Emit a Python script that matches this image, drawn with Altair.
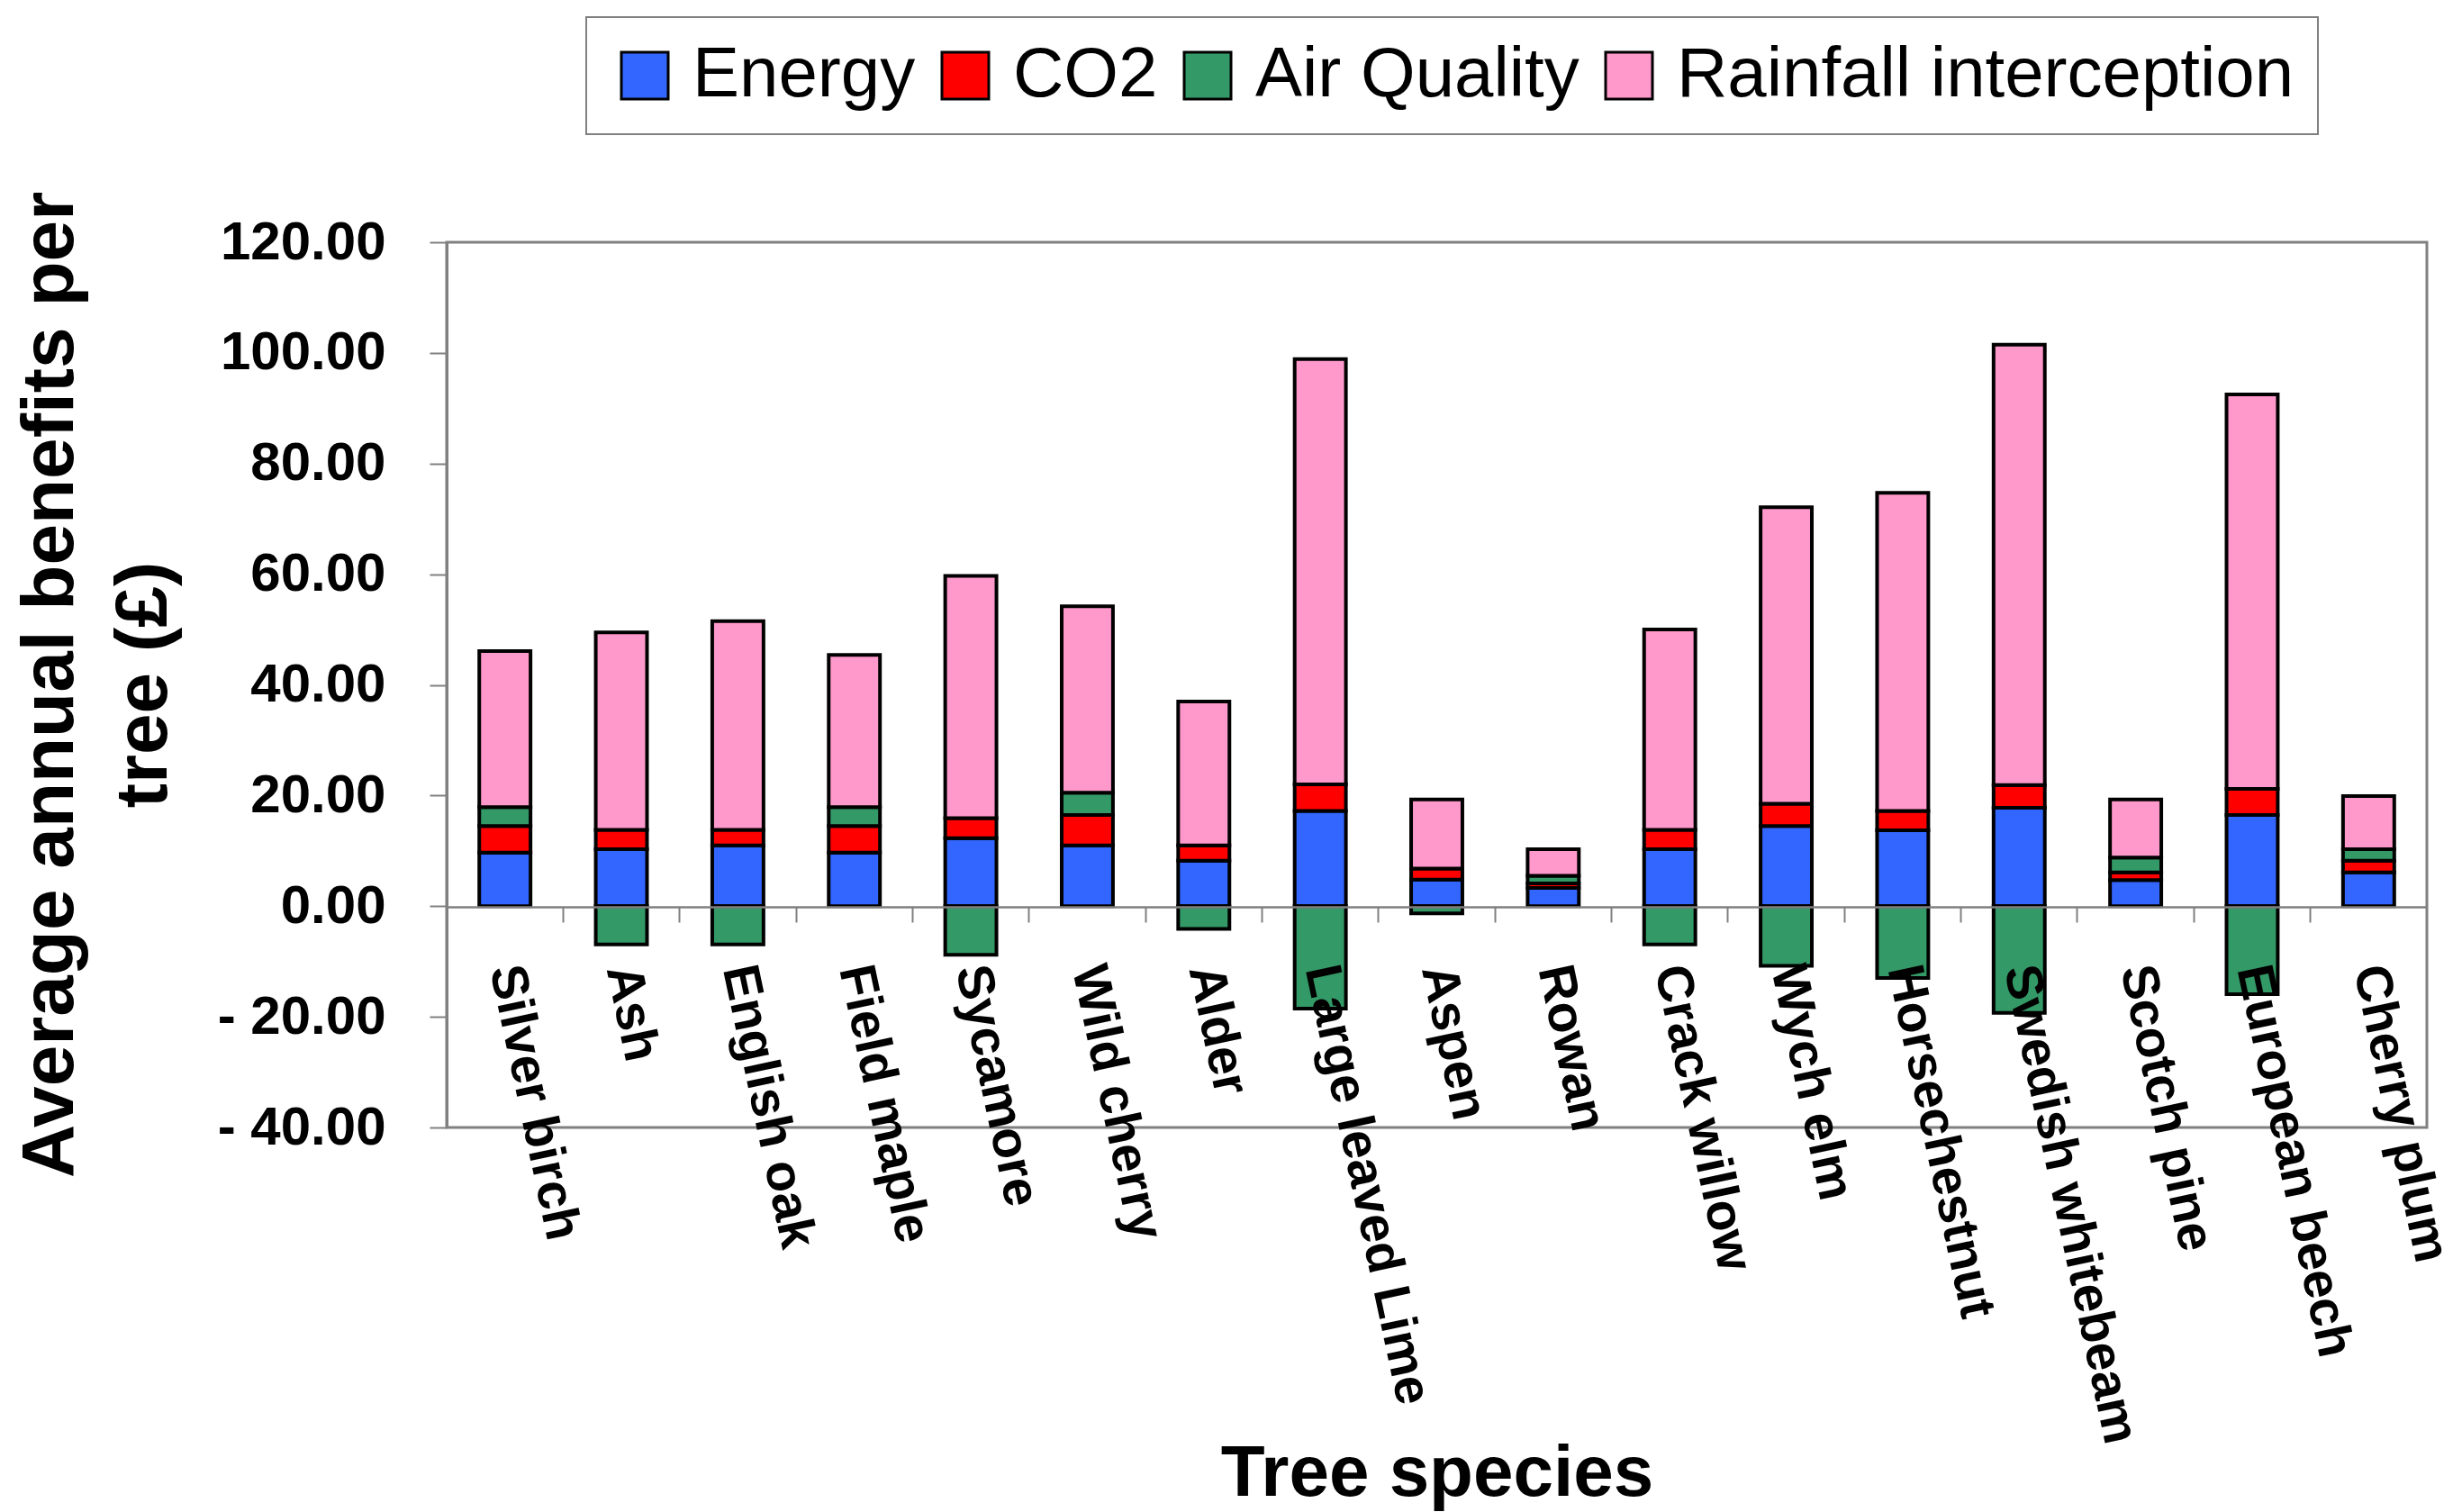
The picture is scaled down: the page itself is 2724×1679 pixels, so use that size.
import altair as alt
import pandas as pd

species = ["Silver birch", "Ash", "English oak", "Field maple", "Sycamore",
           "Wild cherry", "Alder", "Large leaved Lime", "Aspen", "Rowan",
           "Crack willow", "Wych elm", "Horsechestnut", "Swedish whitebeam",
           "Scotch pine", "European beech", "Cherry plum"]
energy = [9.7, 10.3, 11.0, 9.7, 12.3, 11.0, 8.2, 17.2, 4.8, 3.3, 10.3, 14.5, 13.7, 17.8, 4.7, 16.5, 6.1]
co2 = [4.8, 3.5, 2.8, 4.8, 3.6, 5.5, 2.8, 4.8, 2.0, 0.8, 3.5, 4.0, 3.5, 4.1, 1.4, 4.7, 2.1]
air_quality = [3.4, -6.9, -6.9, 3.4, -8.8, 4.0, -4.1, -18.5, -1.3, 1.4, -6.9, -10.8, -13.0, -19.3, 2.7, -15.9, 2.1]
rainfall = [28.2, 35.7, 37.7, 27.5, 43.8, 33.7, 26.0, 76.9, 12.5, 4.8, 36.2, 53.6, 57.5, 79.6, 10.5, 71.3, 9.6]

series = ["Energy", "CO2", "Air Quality", "Rainfall interception"]
colors = ["#3366FF", "#FF0000", "#339966", "#FF99CC"]
y_ticks = [-40, -20, 0, 20, 40, 60, 80, 100, 120]

rows = []
for k, (name, vals) in enumerate(zip(series, [energy, co2, air_quality, rainfall])):
    for sp, v in zip(species, vals):
        rows.append({"species": sp, "series": name, "value": v, "order": k})
df = pd.DataFrame(rows)

FONT = "Liberation Sans"
GRAY = "#808080"

chart = alt.Chart(df).mark_bar(
    stroke="black", strokeWidth=4, width=alt.RelativeBandSize(0.44)
).encode(
    x=alt.X("species:N", sort=species,
            scale=alt.Scale(paddingInner=0, paddingOuter=0),
            axis=alt.Axis(title="Tree species", titleFont=FONT, titleFontSize=80,
                          titleFontWeight="bold", titleColor="black",
                          titleY=653, titleBaseline="alphabetic",
                          labelAngle=78, labelAlign="left", labelBaseline="middle",
                          labelFont=FONT, labelFontSize=57, labelFontWeight="bold",
                          labelColor="black", labelPadding=48, labelLimit=2000,
                          tickSize=17, tickColor=GRAY, tickWidth=2,
                          domainColor=GRAY, domainWidth=2.5,
                          offset=-245, bandPosition=0, zindex=1)),
    y=alt.Y("value:Q", stack="zero",
            scale=alt.Scale(domain=[-40, 120], nice=False),
            axis=alt.Axis(values=y_ticks, grid=False,
                          labelExpr="datum.value < 0 ? '- ' + format(-datum.value, '.2f') : format(datum.value, '.2f')",
                          labelFont=FONT, labelFontSize=60, labelFontWeight="bold",
                          labelColor="black", labelPadding=49, labelLimit=2000,
                          tickSize=19, tickColor=GRAY, tickWidth=2,
                          domainColor=GRAY, domainWidth=3,
                          title=["Average annual benefits per", "tree (£)"],
                          titleFont=FONT, titleFontSize=82, titleFontWeight="bold",
                          titleColor="black", titleX=-416, titleY=491,
                          titleBaseline="alphabetic", titleLineHeight=104)),
    color=alt.Color("series:N", sort=series,
                    scale=alt.Scale(domain=series, range=colors),
                    legend=alt.Legend(title=None, orient="none", legendX=155, legendY=-250,
                                      direction="horizontal", symbolType="square",
                                      symbolSize=2704, symbolStrokeColor="black",
                                      symbolStrokeWidth=3, labelFont=FONT,
                                      labelFontSize=78, labelColor="black",
                                      labelOffset=14, columnPadding=16, padding=26,
                                      strokeColor=GRAY, labelLimit=2000)),
    order=alt.Order("order:Q", sort="ascending"),
).properties(
    width=2199, height=983,
    autosize=alt.AutoSizeParams(type="none"),
    padding={"left": 496, "top": 269, "right": 29, "bottom": 428},
).configure_view(
    stroke=GRAY, strokeWidth=3
).configure_legend(
    strokeWidth=2
)

chart.save("out.html", embed_options={"renderer": "svg", "actions": False})
